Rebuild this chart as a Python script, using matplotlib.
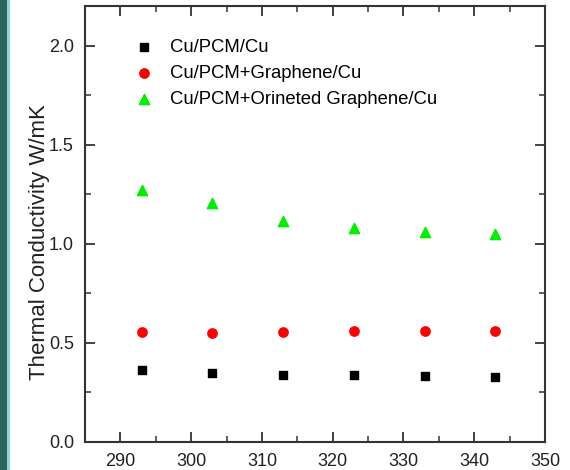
import matplotlib
matplotlib.use('Agg')
import matplotlib.pyplot as plt
from matplotlib.patches import Rectangle
from matplotlib.ticker import MultipleLocator

plt.rcParams['font.family'] = ['Liberation Sans', 'DejaVu Sans']

temperature = [293, 303, 313, 323, 333, 343]
cu_pcm_cu = [0.365, 0.350, 0.338, 0.340, 0.333, 0.330]
cu_pcm_graphene = [0.553, 0.548, 0.557, 0.560, 0.562, 0.560]
cu_pcm_oriented = [1.272, 1.205, 1.117, 1.078, 1.062, 1.050]
labels = ['Cu/PCM/Cu', 'Cu/PCM+Graphene/Cu', 'Cu/PCM+Orineted Graphene/Cu']

fig = plt.figure(figsize=(5.7, 4.7), dpi=100)
ax = fig.add_axes([85 / 570, 28 / 470, 460 / 570, 436 / 470])

# teal slide edge on the far left
fig.patches.append(Rectangle((0, 0), 10 / 570, 1, transform=fig.transFigure,
                             facecolor='#2a6657', edgecolor='none'))
fig.patches.append(Rectangle((7 / 570, 0), 3 / 570, 1, transform=fig.transFigure,
                             facecolor='#8fd6cf', edgecolor='none'))

ax.scatter(temperature, cu_pcm_cu, marker='s', s=38, color='black', label=labels[0])
ax.scatter(temperature, cu_pcm_graphene, marker='o', s=45, color='#ff0000', label=labels[1])
ax.scatter(temperature, cu_pcm_oriented, marker='^', s=55, color='#00ee00', label=labels[2])

ax.set_xlim(285, 350)
ax.set_ylim(0, 2.2)
ax.xaxis.set_major_locator(MultipleLocator(10))
ax.xaxis.set_minor_locator(MultipleLocator(5))
ax.yaxis.set_major_locator(MultipleLocator(0.5))
ax.yaxis.set_minor_locator(MultipleLocator(0.25))
ax.tick_params(which='both', direction='in', top=True, right=True, labelsize=13,
               color='#333333', labelcolor='#222222')
ax.tick_params(which='major', length=7, width=1.3, pad=8)
ax.tick_params(which='minor', length=4, width=1.1)
for s in ax.spines.values():
    s.set_linewidth(1.5)
    s.set_color('#333333')

ax.set_ylabel('Thermal Conductivity W/mK', fontsize=16, color='#222222')
ax.yaxis.set_label_coords(-0.077, 0.459)

ax.legend(loc='upper left', frameon=False, fontsize=13.3, bbox_to_anchor=(0.06, 0.955),
          handletextpad=0.4, labelspacing=0.5, borderaxespad=0.3)

fig.savefig('out.png', dpi=100)
